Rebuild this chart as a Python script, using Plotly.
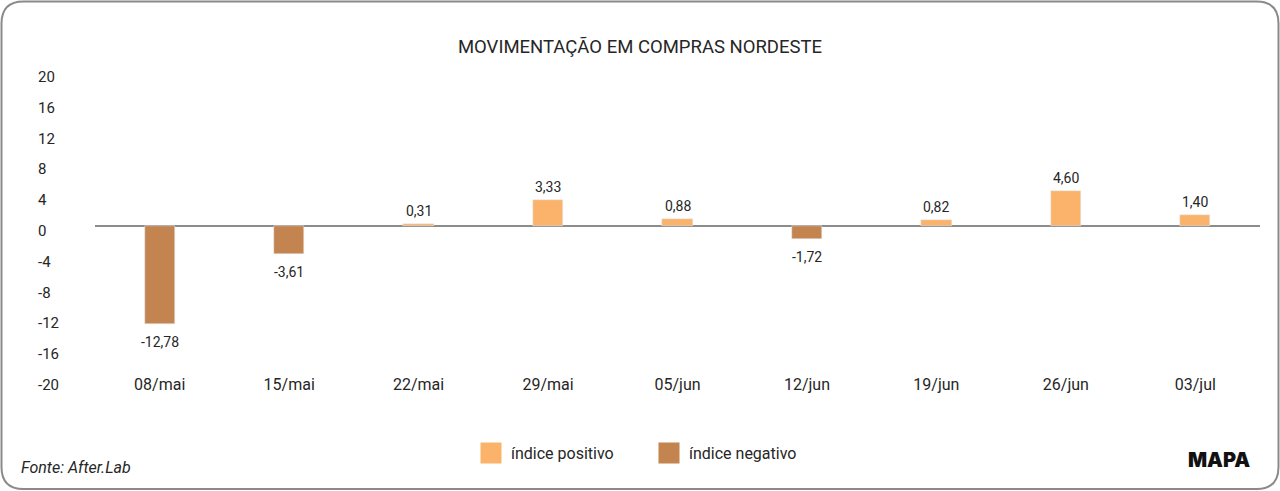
import plotly.graph_objects as go

categories = ["08/mai", "15/mai", "22/mai", "29/mai", "05/jun", "12/jun", "19/jun", "26/jun", "03/jul"]
values = [-12.78, -3.61, 0.31, 3.33, 0.88, -1.72, 0.82, 4.60, 1.40]
y_ticks = [20, 16, 12, 8, 4, 0, -4, -8, -12, -16, -20]
series_names = ["índice positivo", "índice negativo"]
title_text = "MOVIMENTAÇÃO EM COMPRAS NORDESTE"
source_text = "Fonte: After.Lab"
brand_text = "MAPA"

POS_COLOR = "#FBB36B"
NEG_COLOR = "#C4844F"
TEXT = "#262626"
FONT = "Roboto, sans-serif"

W, H = 1280, 491
L, R, T, B = 95, 1260, 72, 380
YMIN, YMAX = -20, 20


def px_x(X):
    return (X - L) / (R - L)


def px_y(Y):
    return (B - Y) / (B - T)


def fmt(v):
    return f"{v:.2f}".replace(".", ",")


pos = [v if v > 0 else None for v in values]
neg = [v if v < 0 else None for v in values]

fig = go.Figure()
fig.add_trace(go.Bar(
    x=categories, y=pos, name=series_names[0], marker_color=POS_COLOR,
    width=0.235, showlegend=False, hoverinfo="x+y",
))
fig.add_trace(go.Bar(
    x=categories, y=neg, name=series_names[1], marker_color=NEG_COLOR,
    width=0.235, showlegend=False, hoverinfo="x+y",
))
# legend entries
for nm, col in zip(series_names, [POS_COLOR, NEG_COLOR]):
    fig.add_trace(go.Scatter(
        x=[None], y=[None], mode="markers", name=nm,
        marker=dict(symbol="square", size=16, color=col, line=dict(color=col, width=5)),
    ))

annotations = []
# data labels
for c, v in zip(categories, values):
    annotations.append(dict(
        x=c, y=v, xref="x", yref="y", text=fmt(v), showarrow=False,
        xanchor="center", yanchor="middle", yshift=13 if v > 0 else -18,
        font=dict(size=14, color=TEXT, family=FONT),
    ))
# y tick labels (left aligned like the original)
for t in y_ticks:
    frac = (t - YMIN) / (YMAX - YMIN)
    annotations.append(dict(
        x=px_x(36), y=frac, xref="paper", yref="paper", text=str(t),
        showarrow=False, xanchor="left", yanchor="middle", yshift=-5,
        font=dict(size=15, color=TEXT, family=FONT),
    ))
annotations.append(dict(
    x=px_x(19), y=px_y(467), xref="paper", yref="paper", text=f"<i>{source_text}</i>",
    showarrow=False, xanchor="left", yanchor="middle",
    font=dict(size=16, color=TEXT, family=FONT),
))
annotations.append(dict(
    x=px_x(1252), y=px_y(460), xref="paper", yref="paper", text=brand_text,
    showarrow=False, xanchor="right", yanchor="middle",
    font=dict(size=20, color="#111111", family="Inter, Roboto, sans-serif", weight=900),
))

# rounded frame around the whole picture
x0, x1, y0, y1, r = 1.5, 1278.5, 1.5, 489, 22
rx = r / (R - L)
ry = r / (B - T)
ax0, ax1 = px_x(x0), px_x(x1)
ay0, ay1 = px_y(y1), px_y(y0)  # bottom, top in paper
path = (
    f"M {ax0 + rx},{ay1} L {ax1 - rx},{ay1} Q {ax1},{ay1} {ax1},{ay1 - ry} "
    f"L {ax1},{ay0 + ry} Q {ax1},{ay0} {ax1 - rx},{ay0} "
    f"L {ax0 + rx},{ay0} Q {ax0},{ay0} {ax0},{ay0 + ry} "
    f"L {ax0},{ay1 - ry} Q {ax0},{ay1} {ax0 + rx},{ay1} Z"
)

fig.update_layout(
    width=W, height=H,
    margin=dict(l=L, r=W - R, t=T, b=H - B, pad=0),
    paper_bgcolor="white", plot_bgcolor="white",
    barmode="overlay", bargap=0,
    separators=",.",
    font=dict(family=FONT, color=TEXT, size=15),
    title=dict(text=title_text, x=0.5, xref="container", xanchor="center",
               y=1 - 47 / H, yanchor="middle",
               font=dict(size=18.5, color=TEXT, family=FONT)),
    xaxis=dict(showgrid=False, showline=False, ticks="", ticklabelstandoff=-7,
               tickfont=dict(size=16, color=TEXT, family=FONT), fixedrange=True),
    yaxis=dict(range=[YMIN, YMAX], showgrid=False, showticklabels=False,
               zeroline=True, zerolinecolor="#8C8C8C", zerolinewidth=2,
               tickvals=y_ticks, fixedrange=True),
    legend=dict(orientation="h", x=px_x(649), xanchor="center",
                y=px_y(453), yanchor="middle", entrywidth=133,
                font=dict(size=16, color=TEXT, family=FONT),
                itemsizing="trace", bgcolor="rgba(0,0,0,0)"),
    annotations=annotations,
    shapes=[dict(type="path", path=path, xref="paper", yref="paper",
                 line=dict(color="#8A8A8A", width=2), layer="below")],
)

fig.write_html(
    "out.html",
    config={"displayModeBar": False},
    post_script="document.body.style.margin='0';document.body.style.overflow='hidden';",
)
